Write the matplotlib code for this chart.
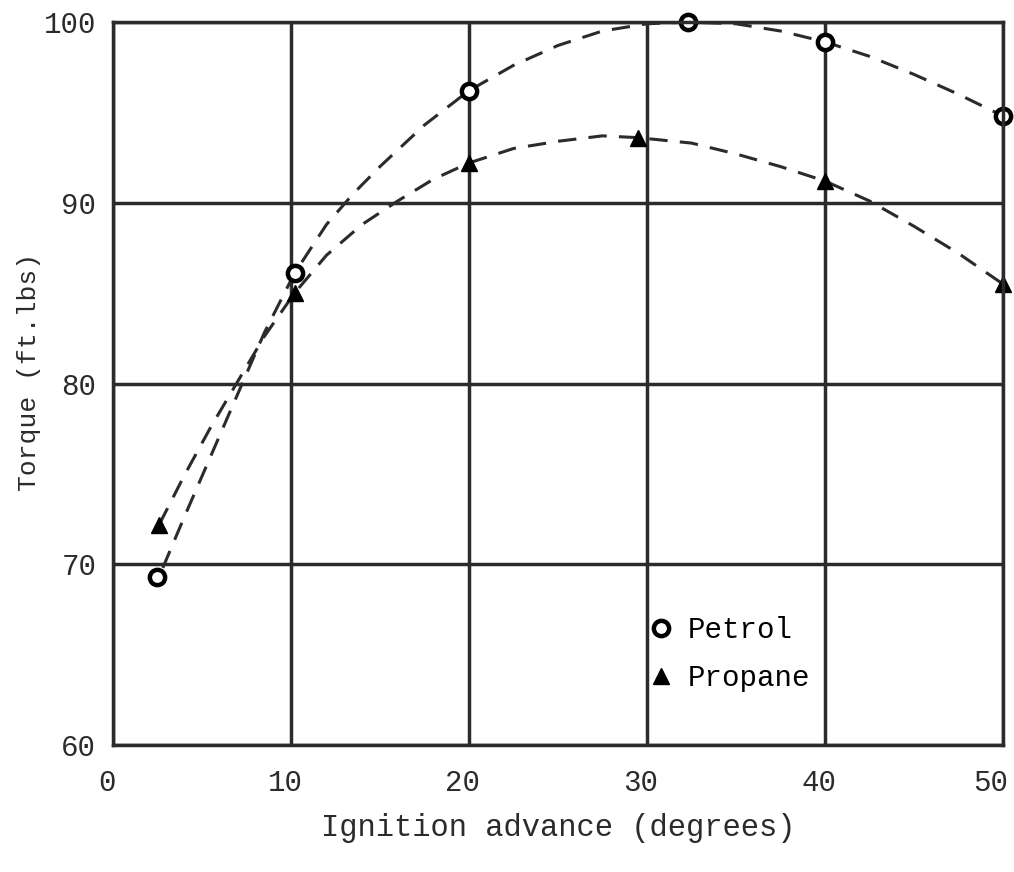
import matplotlib
matplotlib.use("Agg")
import matplotlib.pyplot as plt
import matplotlib.transforms as mtransforms
from matplotlib.lines import Line2D

plt.rcParams['font.family'] = ['Liberation Mono', 'DejaVu Sans Mono']

# measured points
petrol_x = [2.5, 10.2, 20.0, 32.3, 40.0, 50.0]
petrol_y = [69.3, 86.1, 96.2, 100.0, 98.9, 94.8]
propane_x = [2.6, 10.2, 20.0, 29.5, 40.0, 50.0]
propane_y = [72.2, 85.0, 92.2, 93.6, 91.2, 85.5]

# hand-drawn fitted curves
petrol_curve_x = [2.8, 4.0, 5.5, 7.0, 8.5, 10.2, 12.0, 13.5, 15.0, 17.5, 20.0, 22.5,
                  25.0, 27.5, 30.0, 32.3, 35.0, 37.5, 40.0, 42.5, 45.0, 47.5, 50.0]
petrol_curve_y = [69.8, 72.6, 76.0, 79.4, 82.8, 86.1, 88.8, 90.5, 92.0, 94.3, 96.2, 97.6,
                  98.7, 99.5, 99.9, 100.0, 99.9, 99.5, 98.9, 98.1, 97.1, 96.0, 94.8]
propane_curve_x = [2.6, 4.0, 5.5, 7.0, 8.5, 10.2, 12.0, 14.0, 16.0, 18.0, 20.0, 22.5,
                   25.0, 27.5, 29.5, 32.5, 35.0, 37.5, 40.0, 42.5, 45.0, 47.5, 50.0]
propane_curve_y = [72.2, 74.9, 77.6, 80.1, 82.6, 85.0, 87.1, 88.8, 90.1, 91.3, 92.2, 93.0,
                   93.4, 93.7, 93.6, 93.3, 92.7, 92.0, 91.2, 90.1, 88.7, 87.2, 85.5]

x_ticks = [0, 10, 20, 30, 40, 50]
y_ticks = [60, 70, 80, 90, 100]

ink = '#2b2b2b'

fig = plt.figure(figsize=(10.14, 8.72), dpi=100)
ax = fig.add_axes([0.1114, 0.1456, 0.8777, 0.8292])

ax.plot(petrol_curve_x, petrol_curve_y, color=ink, lw=2.2, dashes=(6, 4))
ax.plot(propane_curve_x, propane_curve_y, color=ink, lw=2.2, dashes=(6, 4))
ax.plot(petrol_x, petrol_y, 'o', ms=11, mfc='white', mec='black', mew=3.2, clip_on=False)
ax.plot(propane_x, propane_y, '^', ms=11, color='black', clip_on=False)

ax.set_xlim(0, 50)
ax.set_ylim(60, 100)
ax.set_xticks(x_ticks)
ax.set_yticks(y_ticks)
ax.grid(True, color=ink, lw=2.5)
ax.set_axisbelow(True)
for s in ax.spines.values():
    s.set_color(ink)
    s.set_linewidth(2.5)
ax.tick_params(length=0, labelsize=21, colors=ink)
ax.tick_params(axis='x', pad=17)
ax.tick_params(axis='y', pad=12)

# typed labels sit a little left of the grid lines
for i, lab in enumerate(ax.get_xticklabels()):
    dx = -12 if i == len(x_ticks) - 1 else -6
    lab.set_transform(lab.get_transform() +
                      mtransforms.ScaledTranslation(dx / 100, 0, fig.dpi_scale_trans))

ax.set_xlabel('Ignition advance (degrees)', fontsize=22, color=ink, labelpad=12)
ax.set_ylabel('Torque (ft.lbs)', fontsize=19, color=ink)
ax.yaxis.set_label_coords(-0.081, 0.516)

handles = [
    Line2D([], [], ls='none', marker='o', ms=11, mfc='white', mec='black', mew=3.2),
    Line2D([], [], ls='none', marker='^', ms=11, color='black'),
]
ax.legend(handles, ['Petrol', 'Propane'], loc='upper left', bbox_to_anchor=(0.57, 0.215),
          frameon=False, fontsize=21, handletextpad=0.4, labelspacing=0.7,
          handlelength=1.0)

fig.savefig('out.png', dpi=100, facecolor='white')
